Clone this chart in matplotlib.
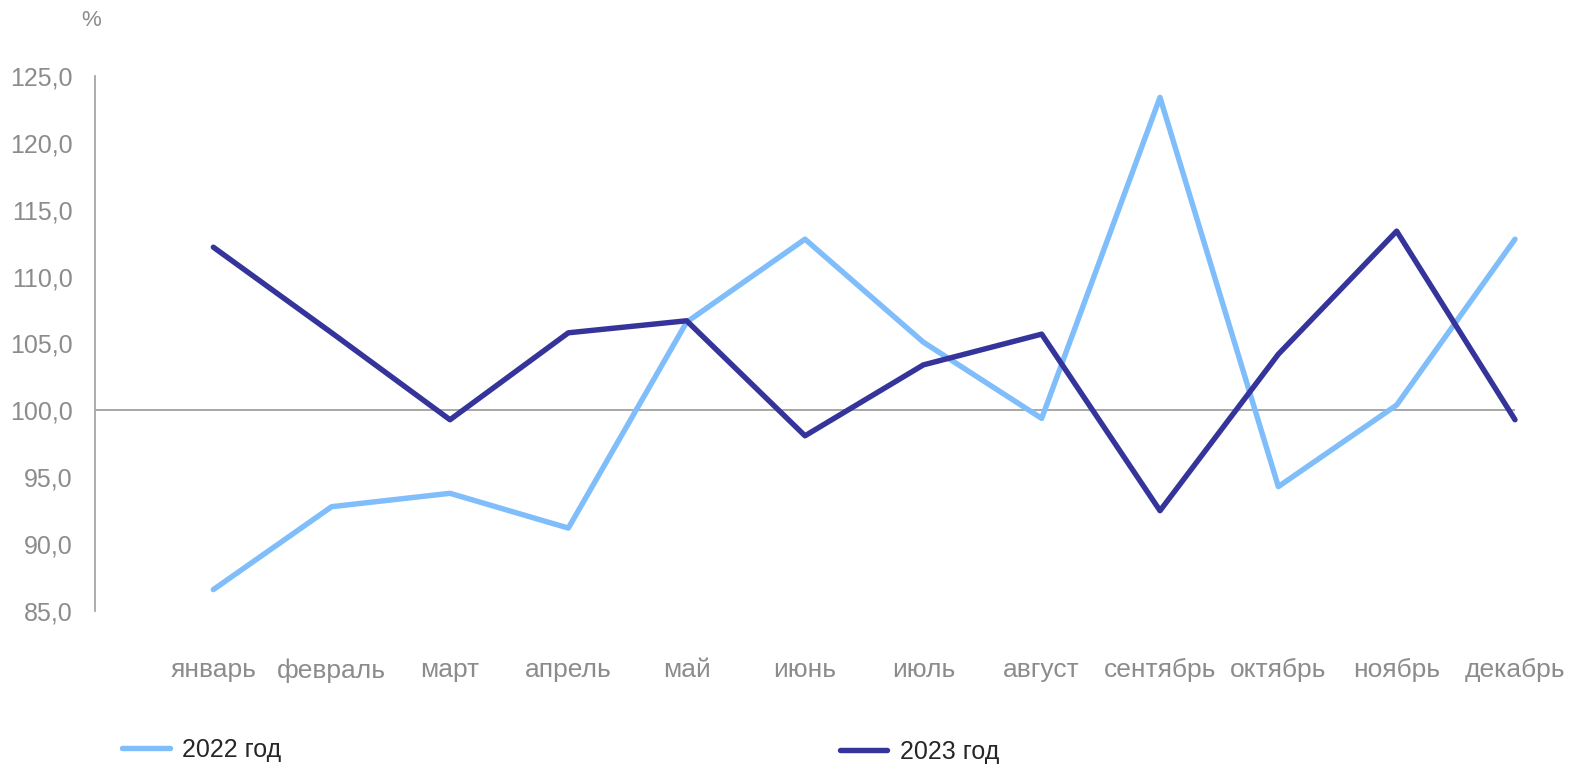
import matplotlib.pyplot as plt
from matplotlib import font_manager

months = ["январь", "февраль", "март", "апрель", "май", "июнь",
          "июль", "август", "сентябрь", "октябрь", "ноябрь", "декабрь"]
y2022 = [86.6, 92.8, 93.8, 91.2, 106.6, 112.8, 105.1, 99.4, 123.4, 94.3, 100.4, 112.8]
y2023 = [112.2, 105.8, 99.3, 105.8, 106.7, 98.1, 103.4, 105.7, 92.5, 104.2, 113.4, 99.3]
yticks = [85, 90, 95, 100, 105, 110, 115, 120, 125]

c2022 = "#7fbdfb"
c2023 = "#35349a"
grey = "#8c8c8c"

names = {f.name for f in font_manager.fontManager.ttflist}
narrow = "Liberation Sans Narrow" if "Liberation Sans Narrow" in names else "Liberation Sans"

plt.rcParams["font.family"] = ["Liberation Sans", "DejaVu Sans"]

fig = plt.figure(figsize=(15.73, 7.66), dpi=100)
ax = fig.add_axes([95 / 1573, 1 - 611 / 766, (1515 - 95) / 1573, (611 - 76) / 766])

x = list(range(1, 13))
l1, = ax.plot(x, y2022, color=c2022, lw=3.9, solid_capstyle="round",
              solid_joinstyle="round", zorder=3, clip_on=False)
l2, = ax.plot(x, y2023, color=c2023, lw=3.9, solid_capstyle="round",
              solid_joinstyle="round", zorder=3, clip_on=False)
ax.axhline(100, color="#8f8f8f", lw=1.1, zorder=1)

ax.set_xlim(0, 12)
ax.set_ylim(85, 125)
ax.set_yticks(yticks)
ax.set_yticklabels([f"{v:.1f}".replace(".", ",") for v in yticks])
ax.set_xticks(x)
ax.set_xticklabels(months)
ax.tick_params(axis="both", length=0, labelcolor=grey)
ax.tick_params(axis="x", pad=34, labelsize=19)
ax.tick_params(axis="y", pad=16, labelsize=18)

for s in ["top", "right", "bottom"]:
    ax.spines[s].set_visible(False)
ax.spines["left"].set_color("#a6a6a6")
ax.spines["left"].set_linewidth(1.3)

fig.text(91 / 1573, 1 - 21 / 766, "%", color=grey, fontsize=16, ha="center", va="center")

leg_kw = dict(frameon=False, handlelength=1.9, handletextpad=0.5,
              borderpad=0, borderaxespad=0, loc="center left",
              prop={"family": [narrow, "DejaVu Sans"], "size": 18})
leg1 = fig.legend([l1], ["2022 год"], bbox_to_anchor=(122 / 1573, 1 - 750 / 766), **leg_kw)
leg2 = fig.legend([l2], ["2023 год"], bbox_to_anchor=(840 / 1573, 1 - 752 / 766), **leg_kw)
for leg in (leg1, leg2):
    for t in leg.get_texts():
        t.set_color("#262626")

fig.savefig("out.png", dpi=100)
